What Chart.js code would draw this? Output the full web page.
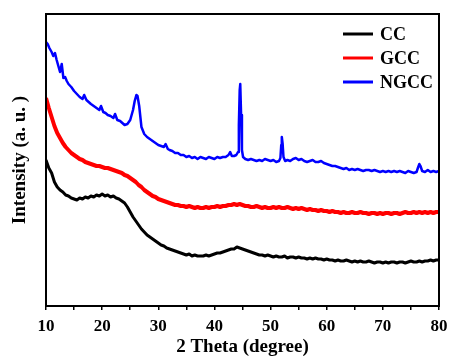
<!DOCTYPE html>
<html>
<head>
<meta charset="utf-8">
<script src="https://cdn.jsdelivr.net/npm/chart.js@4.4.0/dist/chart.umd.min.js"></script>
<style>
  html, body { margin: 0; padding: 0; background: #fff; }
  #wrap { width: 449px; height: 357px; }
</style>
</head>
<body>
<div id="wrap"><canvas id="xrd-chart" width="449" height="357"></canvas></div>
<script>
// 2 theta grid shared by CC and GCC
const angles = [10, 10.5, 11, 11.5, 12, 12.5, 13, 13.5, 14, 14.5, 15, 15.5, 16, 16.5, 17, 17.5, 18, 18.5, 19, 19.5,
  20, 20.5, 21, 21.5, 22, 22.5, 23, 23.5, 24, 24.5, 25, 25.5, 26, 26.5, 27, 27.5, 28, 28.5, 29, 29.5,
  30, 30.5, 31, 31.5, 32, 32.5, 33, 33.5, 34, 34.5, 35, 35.5, 36, 36.5, 37, 37.5, 38, 38.5, 39, 39.5,
  40, 40.5, 41, 41.5, 42, 42.5, 43, 43.5, 44, 44.5, 45, 45.5, 46, 46.5, 47, 47.5, 48, 48.5, 49, 49.5,
  50, 50.5, 51, 51.5, 52, 52.5, 53, 53.5, 54, 54.5, 55, 55.5, 56, 56.5, 57, 57.5, 58, 58.5, 59, 59.5,
  60, 60.5, 61, 61.5, 62, 62.5, 63, 63.5, 64, 64.5, 65, 65.5, 66, 66.5, 67, 67.5, 68, 68.5, 69, 69.5,
  70, 70.5, 71, 71.5, 72, 72.5, 73, 73.5, 74, 74.5, 75, 75.5, 76, 76.5, 77, 77.5, 78, 78.5, 79, 79.5, 80];

const ccIntensity = [146, 138, 133, 124, 119, 116, 114, 111, 110, 108, 107, 106, 108, 107, 109, 108, 110, 109, 111, 110,
  112, 110, 111, 109, 110, 108, 107, 105, 103, 99, 94, 89, 85, 81, 77, 74, 71, 69, 67, 65,
  63, 61, 60, 58, 57, 56, 55, 54, 53, 52, 51, 52, 50, 51, 50, 50, 50, 51, 50, 51,
  52, 53, 53, 54, 55, 56, 57, 57, 59, 58, 57, 56, 55, 54, 53, 52, 51, 51, 50, 51,
  50, 49, 50, 49, 49, 50, 48, 49, 49, 48, 49, 48, 48, 47, 48, 47, 48, 47, 47, 46,
  47, 46, 46, 45, 46, 45, 45, 46, 45, 44, 45, 44, 45, 44, 44, 45, 44, 43, 44, 44,
  43, 44, 43, 44, 44, 43, 44, 44, 43, 44, 45, 44, 44, 45, 44, 45, 45, 46, 45, 46, 46];

const gccIntensity = [208, 198, 189, 180, 173, 168, 163, 159, 156, 153, 151, 149, 147, 146, 144, 143, 142, 141, 140, 140,
  139, 138, 138, 137, 136, 135, 134, 133, 131, 130, 128, 126, 124, 121, 119, 116, 114, 112, 110, 109,
  107, 106, 105, 104, 103, 102, 101, 101, 100, 100, 99, 100, 99, 98, 99, 98, 98, 99, 98, 99,
  99, 100, 99, 100, 100, 101, 101, 102, 101, 102, 101, 100, 100, 99, 99, 100, 99, 98, 99, 98,
  98, 99, 98, 99, 98, 98, 99, 98, 97, 98, 97, 98, 97, 96, 97, 96, 96, 95, 96, 95,
  95, 94, 95, 94, 94, 93, 94, 93, 93, 94, 93, 93, 94, 93, 93, 92, 93, 93, 92, 93,
  92, 93, 93, 92, 93, 93, 92, 93, 94, 93, 93, 94, 93, 94, 93, 94, 93, 94, 93, 94, 94];

// NGCC is sampled more finely around its sharp reflections
const anglesNGCC = [10, 10.3, 10.6, 11, 11.3, 11.6, 11.9, 12.2, 12.5, 12.8, 13.1, 13.4, 13.7, 14, 14.5, 15, 15.5, 16, 16.5, 16.8,
  17.2, 17.6, 18, 18.5, 19, 19.5, 19.8, 20.2, 20.6, 21, 21.5, 22, 22.3, 22.7, 23.2, 23.6, 24, 24.5, 25, 25.5,
  25.8, 26.1, 26.3, 26.6, 27, 27.5, 28, 28.5, 29, 29.5, 30, 30.5, 31, 31.3, 31.7, 32, 32.5, 33, 33.5, 34,
  34.5, 35, 35.5, 36, 36.5, 37, 37.5, 38, 38.5, 39, 39.5, 40, 40.5, 41, 41.5, 42, 42.5, 42.8, 43.1, 43.5,
  43.9, 44.2, 44.35, 44.5, 44.6, 44.75, 44.9, 45.1, 45.5, 46, 46.5, 47, 47.5, 48, 48.5, 49, 49.5, 50, 50.5, 51,
  51.5, 51.75, 51.9, 52, 52.15, 52.3, 52.6, 53, 53.5, 54, 54.5, 55, 55.5, 56, 56.5, 57, 57.5, 58, 58.5, 59,
  59.5, 60, 60.5, 61, 61.5, 62, 62.5, 63, 63.5, 64, 64.5, 65, 65.5, 66, 66.5, 67, 67.5, 68, 68.5, 69,
  69.5, 70, 70.5, 71, 71.5, 72, 72.5, 73, 73.5, 74, 74.5, 75, 75.5, 76, 76.3, 76.5, 76.7, 77, 77.5, 78,
  78.5, 79, 79.5, 80];

const ngccIntensity = [264, 262, 258, 254, 250, 253, 246, 240, 234, 242, 228, 229, 225, 222, 219, 215, 212, 209, 207, 211,
  206, 204, 202, 200, 198, 196, 200, 194, 193, 191, 190, 188, 192, 186, 185, 183, 181, 182, 186, 196,
  205, 211, 210, 200, 179, 172, 169, 167, 165, 163, 161, 160, 159, 162, 157, 156, 155, 153, 153, 151,
  151, 149, 150, 148, 149, 147, 149, 148, 147, 149, 148, 147, 149, 148, 149, 149, 151, 154, 150, 150,
  151, 154, 181, 216, 222, 191, 156, 149, 147, 146, 147, 146, 145, 146, 145, 147, 146, 145, 146, 144,
  145, 148, 161, 169, 162, 149, 145, 146, 145, 147, 148, 146, 147, 145, 144, 145, 146, 144, 144, 145,
  143, 142, 141, 140, 140, 139, 138, 137, 138, 136, 137, 136, 137, 136, 135, 136, 136, 135, 136, 135,
  134, 135, 134, 135, 134, 135, 134, 135, 134, 133, 135, 134, 133, 134, 139, 142, 140, 135, 134, 136,
  134, 135, 134, 135];

const seriesNames = ["CC", "GCC", "NGCC"];
const seriesColors = ["#000000", "#ff0000", "#0000ff"];

const FONT = "'Times New Roman', 'Liberation Serif', serif";

const toPoints = (xs, ys) => xs.map((x, i) => ({ x: x, y: ys[i] }));

// frame around the plot plus the in-plot legend
const framePlugin = {
  id: "frame",
  afterDraw(chart) {
    const { ctx, chartArea } = chart;
    ctx.save();
    ctx.strokeStyle = "#000";
    ctx.lineWidth = 2;
    ctx.strokeRect(chartArea.left, chartArea.top, chartArea.right - chartArea.left, chartArea.bottom - chartArea.top);

    ctx.font = "bold 18px " + FONT;
    ctx.textBaseline = "middle";
    ctx.fillStyle = "#000";
    chart.data.datasets.forEach((ds, i) => {
      const y = chartArea.top + 20 + i * 24;
      const x0 = chartArea.right - 96;
      ctx.strokeStyle = ds.borderColor;
      ctx.lineWidth = 3;
      ctx.beginPath();
      ctx.moveTo(x0, y);
      ctx.lineTo(x0 + 30, y);
      ctx.stroke();
      ctx.fillText(ds.label, x0 + 37, y + 1);
    });
    ctx.restore();
  },
};

const ctx = document.getElementById("xrd-chart").getContext("2d");

new Chart(ctx, {
  type: "line",
  data: {
    datasets: [
      { label: seriesNames[0], data: toPoints(angles, ccIntensity), borderColor: seriesColors[0], borderWidth: 3 },
      { label: seriesNames[1], data: toPoints(angles, gccIntensity), borderColor: seriesColors[1], borderWidth: 4 },
      { label: seriesNames[2], data: toPoints(anglesNGCC, ngccIntensity), borderColor: seriesColors[2], borderWidth: 2.5 },
    ],
  },
  options: {
    responsive: false,
    animation: false,
    layout: { padding: { top: 14, right: 10, left: 0, bottom: 0 } },
    elements: {
      point: { radius: 0 },
      line: { tension: 0, borderJoinStyle: "round", fill: false },
    },
    plugins: {
      legend: { display: false },
      tooltip: { enabled: false },
    },
    scales: {
      x: {
        type: "linear",
        min: 10,
        max: 80,
        afterFit(scale) {
          scale.height = 51;
          scale.paddingLeft = 0;
          scale.paddingRight = 0;
        },
        ticks: {
          stepSize: 5,
          autoSkip: false,
          maxRotation: 0,
          padding: 6,
          color: "#000",
          font: { family: FONT, size: 17, weight: "bold" },
          callback: (v) => (v % 10 === 0 ? v : ""),
        },
        grid: { drawOnChartArea: false, drawTicks: true, tickLength: 4, color: "#000", lineWidth: 1.5 },
        border: { color: "#000", width: 2 },
        title: {
          display: true,
          text: "2 Theta (degree)",
          color: "#000",
          font: { family: FONT, size: 19, weight: "bold", lineHeight: 1 },
          padding: { top: 0, bottom: 0 },
        },
      },
      y: {
        min: 0,
        max: 292,
        afterFit(scale) { scale.width = 46; },
        ticks: { display: false },
        grid: { display: false },
        border: { color: "#000", width: 2 },
        title: {
          display: true,
          text: "Intensity (a. u. )",
          color: "#000",
          font: { family: FONT, size: 19, weight: "bold", lineHeight: 1 },
          padding: { top: 11, bottom: 0 },
        },
      },
    },
  },
  plugins: [framePlugin],
});
</script>
</body>
</html>
